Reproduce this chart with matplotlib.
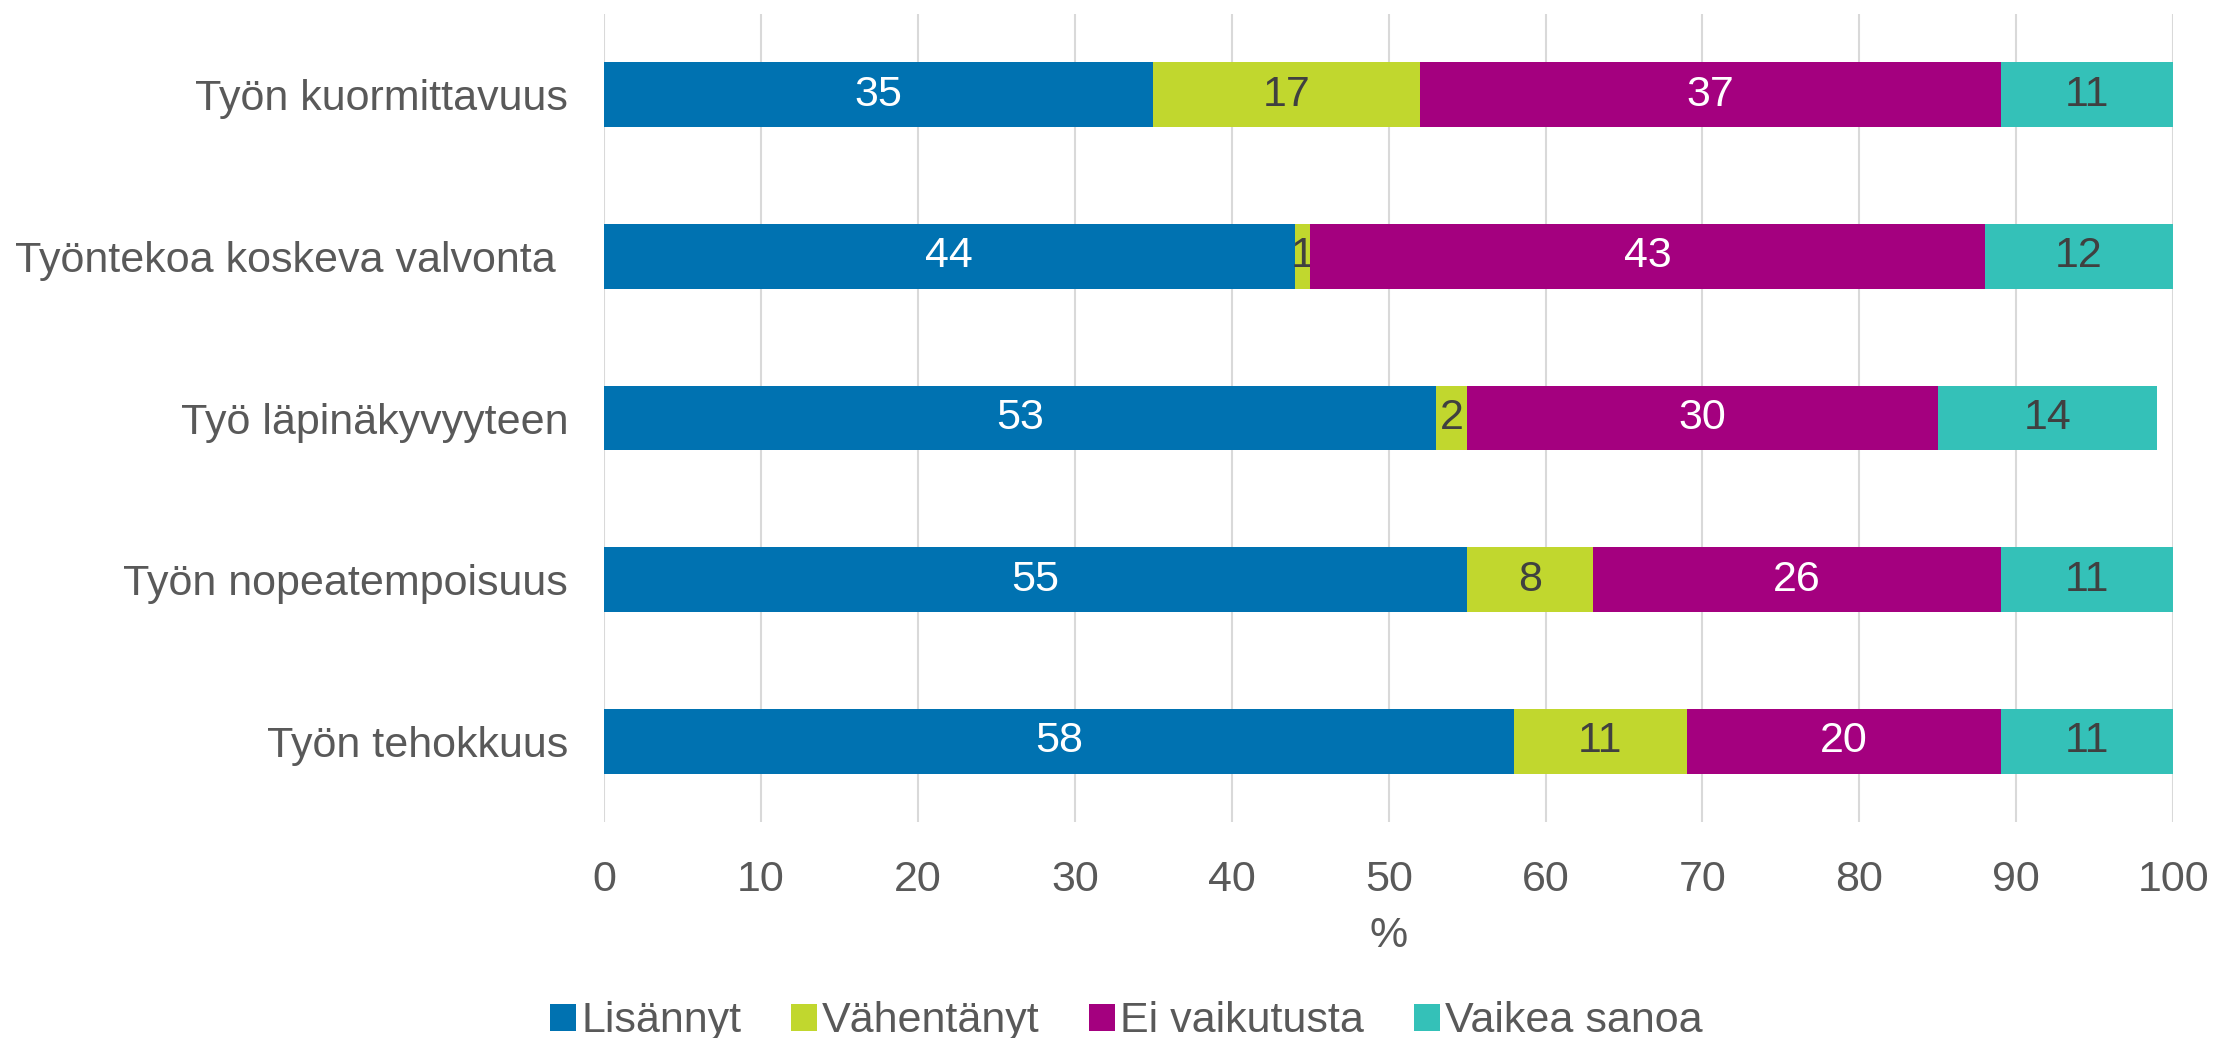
import numpy as np
import matplotlib.pyplot as plt

plt.rcParams['font.family'] = ['Liberation Sans', 'DejaVu Sans']

# kategoriat alhaalta ylös
categories = ['Työn tehokkuus', 'Työn nopeatempoisuus', 'Työ läpinäkyvyyteen',
              'Työntekoa koskeva valvonta ', 'Työn kuormittavuus']
series = ['Lisännyt', 'Vähentänyt', 'Ei vaikutusta', 'Vaikea sanoa']
lisannyt = [58, 55, 53, 44, 35]
vahentanyt = [11, 8, 2, 1, 17]
ei_vaikutusta = [20, 26, 30, 43, 37]
vaikea_sanoa = [11, 11, 14, 12, 11]

colors = ['#0072B1', '#C1D72E', '#A4007F', '#34C1B8']
label_colors = ['white', '#404040', 'white', '#404040']
text_gray = '#595959'
fs = 31

fig = plt.figure(figsize=(22.13, 10.38), dpi=100)
ax = fig.add_axes([0.273, 0.208, 0.709, 0.7785])

y = np.arange(len(categories))
left = np.zeros(len(categories))
for vals, name, col, lc in zip([lisannyt, vahentanyt, ei_vaikutusta, vaikea_sanoa],
                               series, colors, label_colors):
    vals = np.array(vals, dtype=float)
    bars = ax.barh(y, vals, left=left, height=0.4, color=col, label=name, zorder=3)
    ax.bar_label(bars, labels=[str(int(v)) for v in vals], label_type='center',
                 color=lc, fontsize=fs)
    left += vals

ax.set_xlim(0, 100)
ax.set_ylim(-0.5, len(categories) - 0.5)
ax.set_xticks(np.arange(0, 101, 10))
ax.set_yticks(y)
ax.set_yticklabels(categories)
ax.tick_params(axis='both', length=0, labelsize=fs, colors=text_gray)
ax.tick_params(axis='x', pad=27)
ax.tick_params(axis='y', pad=26)
ax.grid(axis='x', color='#D9D9D9', linewidth=1.5, zorder=0)
for s in ax.spines.values():
    s.set_visible(False)
ax.set_xlabel('%', fontsize=fs, color=text_gray, labelpad=12)

handles, labels = ax.get_legend_handles_labels()
fig.legend(handles, labels, loc='center', bbox_to_anchor=(0.509, 0.016), ncol=4,
           frameon=False, fontsize=fs, labelcolor=text_gray, handlelength=0.6,
           handleheight=0.6, handletextpad=0.12, columnspacing=1.15)

fig.savefig('out.png', dpi=100)
